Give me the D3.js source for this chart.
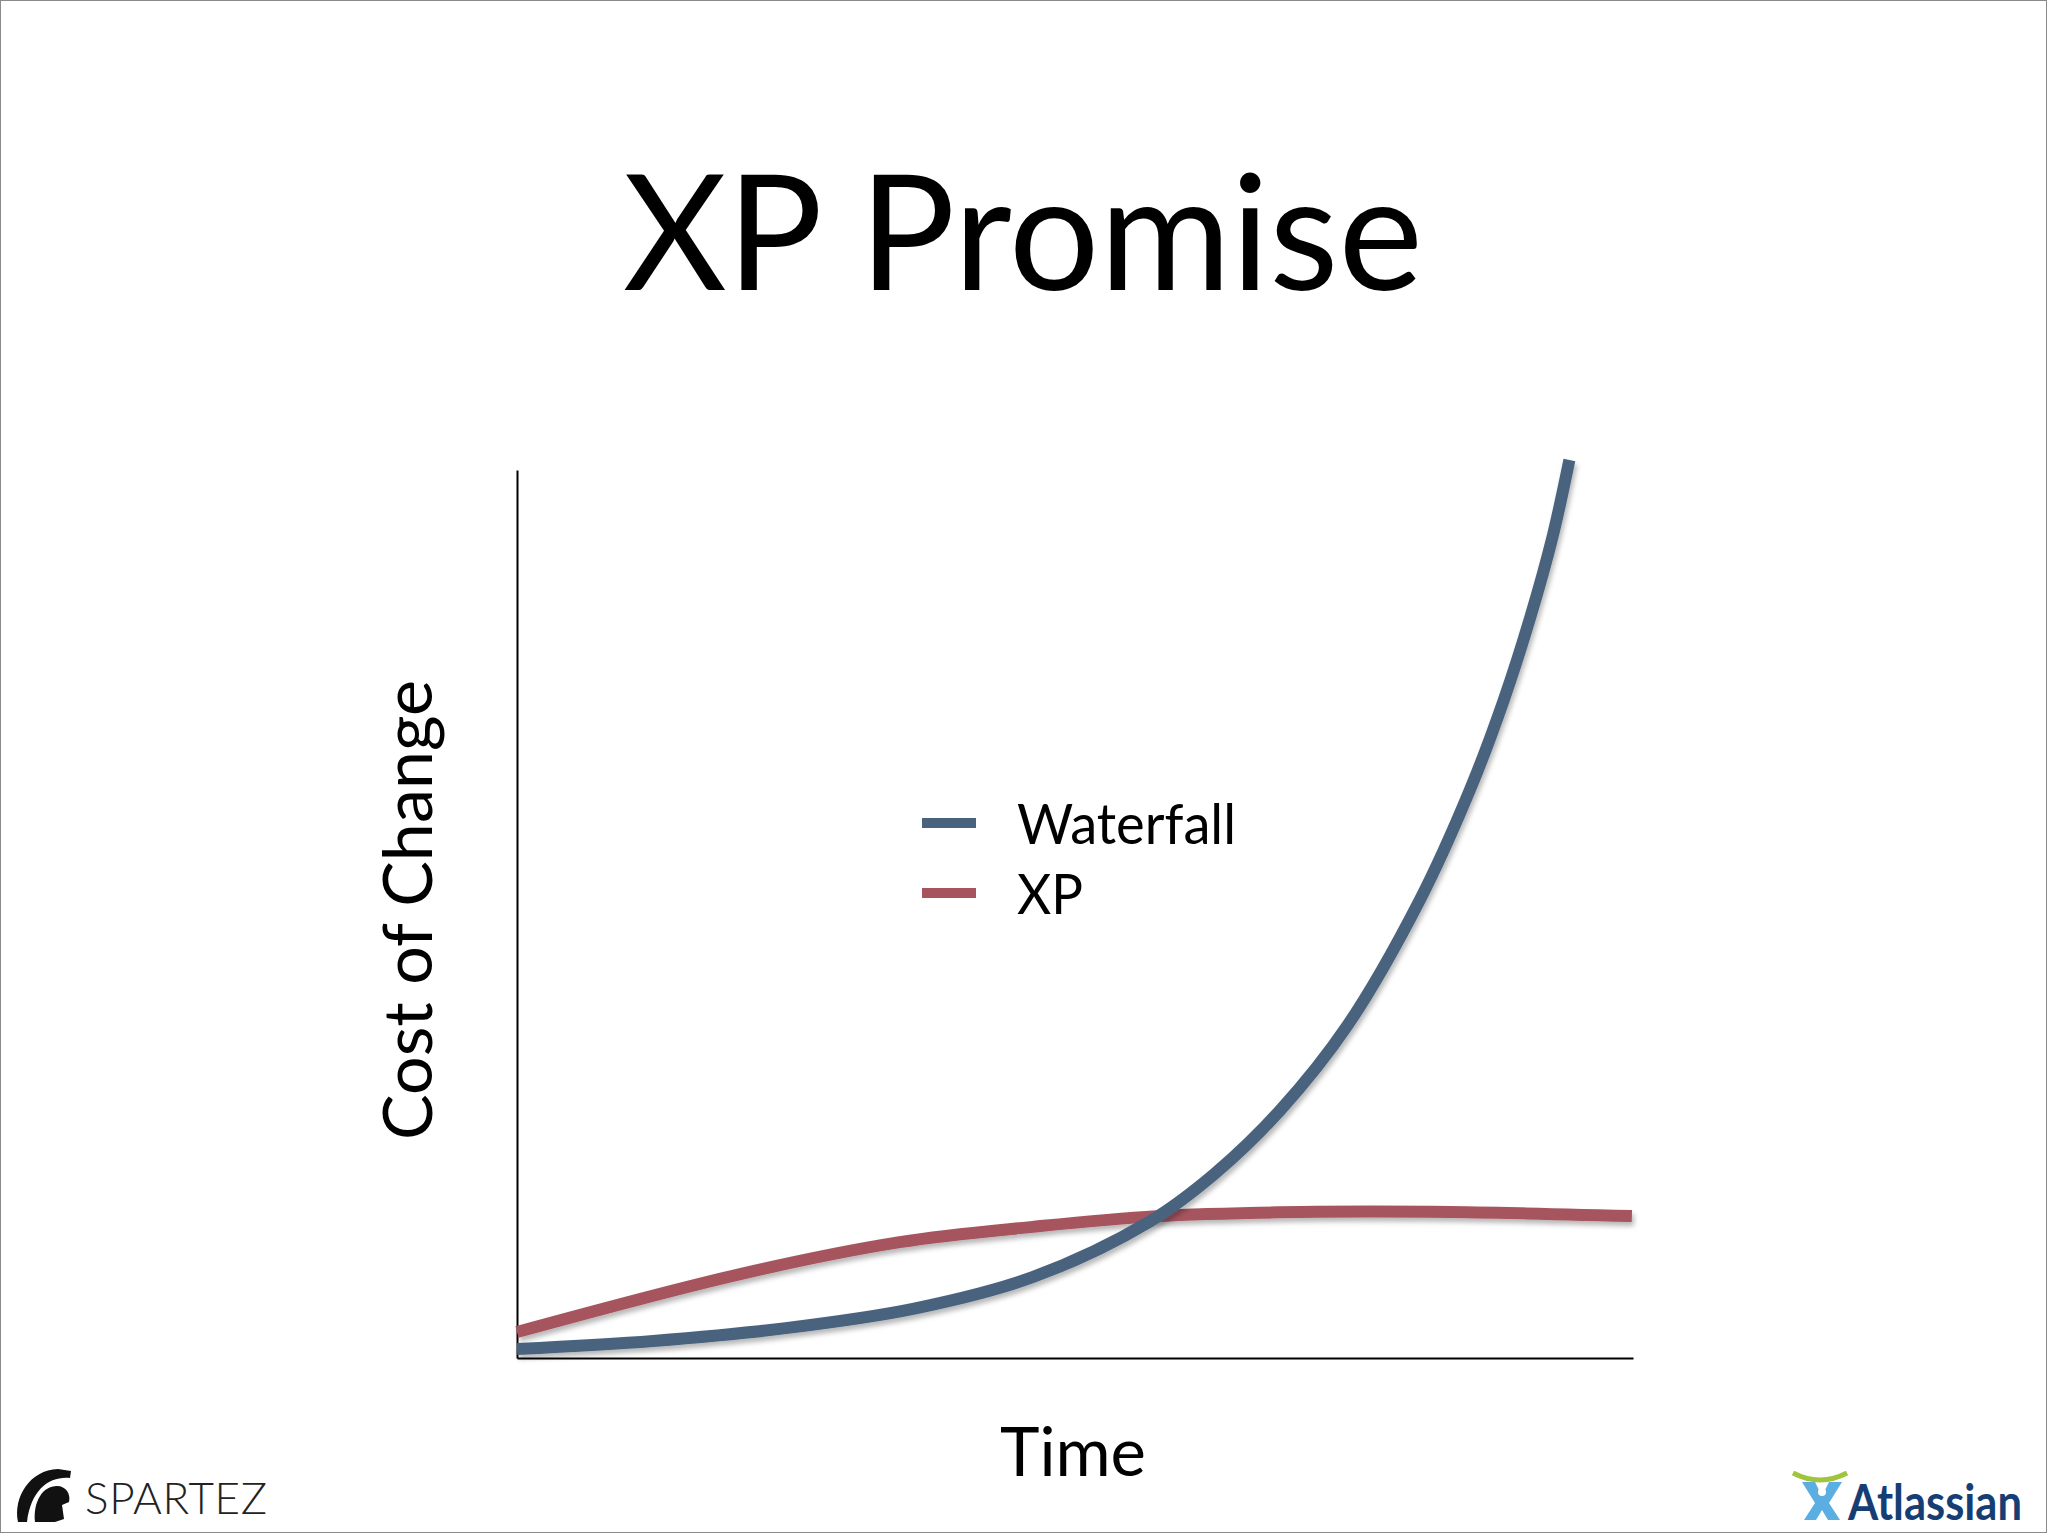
<!DOCTYPE html>
<html>
<head>
<meta charset="utf-8">
<script src="https://cdn.jsdelivr.net/npm/d3@7/dist/d3.min.js"></script>
<style>
  html, body { margin: 0; padding: 0; background: #fff; }
  svg { display: block; }
</style>
</head>
<body>
<svg id="chart" width="2048" height="1536"></svg>
<script>
// ---- data (x = time 0..100, y = cost 0..100) ----
const seriesNames = ["Waterfall", "XP"];
const seriesColors = ["#49637f", "#a6555e"];
const waterfallTime = [0, 12.2, 23.9, 35.6, 46.2, 56.7, 62.5, 68.4, 74.4, 80.9, 85.4, 88.4, 90.8, 92.8, 94.3];
const waterfallCost = [1.0, 1.9, 3.3, 5.5, 9.0, 15.2, 20.5, 27.6, 37.0, 51.0, 63.3, 73.2, 82.5, 91.5, 100];
const xpTime = [0, 20.0, 34.3, 46.2, 57.3, 70.2, 83.6, 99.9];
const xpCost = [2.9, 9.35, 12.9, 14.6, 15.8, 16.25, 16.25, 15.8];
const titleText = "XP Promise";
const xLabel = "Time";
const yLabel = "Cost of Change";
const yAxisTop = 98.9;

const svg = d3.select("#chart");
const font = "Lato, 'Open Sans', 'DejaVu Sans', sans-serif";

// slide border
svg.append("rect").attr("x", 0.5).attr("y", 0.5).attr("width", 2046).attr("height", 1532)
  .attr("fill", "#fff").attr("stroke", "#8a8a8a").attr("stroke-width", 1);

const x = d3.scaleLinear().domain([0, 100]).range([517, 1633]);
const y = d3.scaleLinear().domain([0, 100]).range([1358, 460]);

const defs = svg.append("defs");
const f = defs.append("filter").attr("id", "shadow").attr("x", "-10%").attr("y", "-10%").attr("width", "120%").attr("height", "120%");
f.append("feDropShadow").attr("dx", 2).attr("dy", 4).attr("stdDeviation", 2.5)
  .attr("flood-color", "#000").attr("flood-opacity", 0.28);

// title
svg.append("text").attr("x", 1023).attr("y", 290).attr("text-anchor", "middle")
  .attr("font-family", font).attr("font-size", 162).attr("fill", "#000")
  .attr("textLength", 800).attr("lengthAdjust", "spacingAndGlyphs")
  .text(titleText);

// axes (domain lines only)
const yAxisScale = y.copy().domain([0, yAxisTop]).range([y(0), y(yAxisTop)]);
svg.append("g").attr("transform", `translate(${x(0)},0)`)
  .call(d3.axisLeft(yAxisScale).tickValues([]).tickSizeOuter(0))
  .call(g => g.select(".domain").attr("stroke", "#000").attr("stroke-width", 2));
svg.append("g").attr("transform", `translate(0,${y(0)})`)
  .call(d3.axisBottom(x).tickValues([]).tickSizeOuter(0))
  .call(g => g.select(".domain").attr("stroke", "#000").attr("stroke-width", 2));

// lines
const series = [
  { name: seriesNames[0], color: seriesColors[0], pts: waterfallTime.map((t, i) => [t, waterfallCost[i]]) },
  { name: seriesNames[1], color: seriesColors[1], pts: xpTime.map((t, i) => [t, xpCost[i]]) }
];
const line = d3.line().x(d => x(d[0])).y(d => y(d[1])).curve(d3.curveCatmullRom.alpha(0.5));
// draw XP first, waterfall on top
[series[1], series[0]].forEach(s => {
  svg.append("path").datum(s.pts).attr("d", line)
    .attr("fill", "none").attr("stroke", s.color).attr("stroke-width", 12)
    .attr("stroke-linecap", "butt").attr("filter", "url(#shadow)");
});

// legend
const legend = svg.append("g");
series.forEach((s, i) => {
  const cy = 823 + i * 70;
  legend.append("line").attr("x1", 922).attr("x2", 976).attr("y1", cy).attr("y2", cy)
    .attr("stroke", s.color).attr("stroke-width", 10);
  legend.append("text").attr("x", 1017).attr("y", cy + 21)
    .attr("font-family", font).attr("font-size", 56).attr("fill", "#000")
    .attr("textLength", i === 0 ? 219 : 66).attr("lengthAdjust", "spacingAndGlyphs")
    .text(s.name);
});

// axis labels
svg.append("text").attr("x", 1073).attr("y", 1476).attr("text-anchor", "middle")
  .attr("font-family", font).attr("font-size", 68).attr("fill", "#000")
  .attr("textLength", 146).attr("lengthAdjust", "spacingAndGlyphs")
  .text(xLabel);
svg.append("text").attr("transform", "translate(432,910) rotate(-90)").attr("text-anchor", "middle")
  .attr("font-family", font).attr("font-size", 68).attr("fill", "#000")
  .attr("textLength", 460).attr("lengthAdjust", "spacingAndGlyphs")
  .text(yLabel);

// SPARTEZ logo
const sp = svg.append("g");
sp.append("path").attr("fill", "#111")
  .attr("d", "M18,1522 C13,1497 30,1470 58,1469 L71,1471 L70,1478 C50,1476 31,1489 27,1522 Z");
sp.append("path").attr("fill", "#111")
  .attr("d", "M35,1522 C33,1501 43,1486 57,1486 C66,1486 71,1494 69,1502 L62,1505 L64,1519 L55,1522 Z");
sp.append("text").attr("x", 85).attr("y", 1514)
  .attr("font-family", font).attr("font-weight", 300).attr("font-size", 44).attr("fill", "#222")
  .attr("textLength", 182).attr("lengthAdjust", "spacing")
  .text("SPARTEZ");

// Atlassian logo
const at = svg.append("g");
at.append("path").attr("d", "M1793,1473 Q1820,1487 1847,1473").attr("fill", "none")
  .attr("stroke", "#a0c43c").attr("stroke-width", 5);
at.append("path").attr("fill", "#5aaee2")
  .attr("d", "M1802,1482 L1815,1482 L1822,1496 L1829,1482 L1842,1482 L1829,1503 L1840,1520 L1828,1520 L1822,1510 L1816,1520 L1804,1520 L1815,1503 Z");
at.append("circle").attr("cx", 1822).attr("cy", 1492).attr("r", 4).attr("fill", "#fff");
at.append("text").attr("x", 1848).attr("y", 1520)
  .attr("font-family", font).attr("font-weight", 700).attr("font-size", 50).attr("fill", "#173e74")
  .attr("textLength", 174).attr("lengthAdjust", "spacingAndGlyphs")
  .text("Atlassian");
</script>
</body>
</html>
